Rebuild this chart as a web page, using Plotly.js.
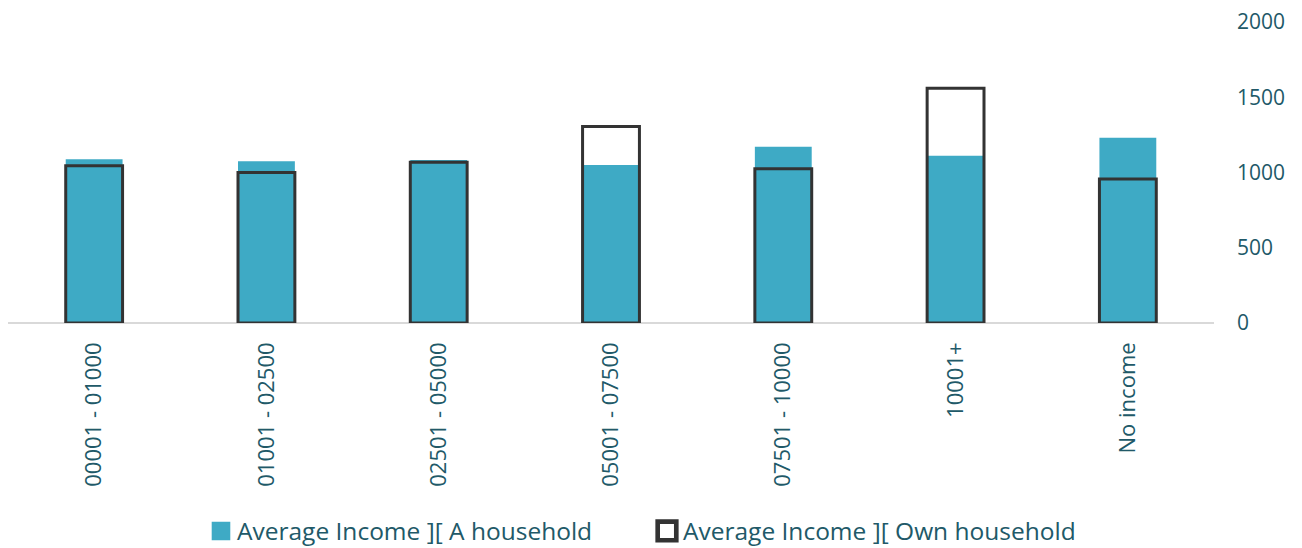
<!DOCTYPE html>
<html>
<head>
<meta charset="utf-8">
<script src="https://cdn.plot.ly/plotly-3.0.1.min.js"></script>
<style>html,body{margin:0;padding:0;background:#fff;}#chart{width:1302px;height:548px;}</style>
</head>
<body>
<div id="chart"></div>
<script>
const categories = ["00001 - 01000", "01001 - 02500", "02501 - 05000", "05001 - 07500", "07501 - 10000", "10001+", "No income"];
const aHousehold = [1088, 1074, 1083, 1050, 1171, 1111, 1231];
const ownHousehold = [1045, 1000, 1068, 1305, 1025, 1559, 956];
const yTicks = [0, 500, 1000, 1500, 2000];

const textColor = "#215968";
const traces = [
  {
    type: "bar", name: "Average Income ][ A household",
    x: categories, y: aHousehold, width: 0.33,
    marker: {color: "#3eaac5", line: {width: 0}},
    hoverinfo: "skip"
  },
  {
    type: "bar", name: "Average Income ][ Own household",
    x: categories, y: ownHousehold, width: 0.33,
    marker: {color: "rgba(0,0,0,0)", line: {color: "#333333", width: 3}},
    hoverinfo: "skip"
  }
];
const layout = {
  width: 1302, height: 548,
  margin: {l: 8, r: 88, t: 22, b: 225},
  paper_bgcolor: "#ffffff", plot_bgcolor: "#ffffff",
  barmode: "overlay",
  showlegend: true,
  font: {family: "Open Sans", color: textColor},
  xaxis: {
    type: "category", tickangle: -90, showgrid: false, showline: false, ticks: "",
    tickfont: {family: "Open Sans", size: 22, color: textColor},
    ticklabelstandoff: 14
  },
  yaxis: {
    side: "right", range: [0, 2000], tickvals: yTicks, showgrid: false,
    zeroline: true, zerolinecolor: "#d9d9d9", zerolinewidth: 2, showline: false, ticks: "",
    tickfont: {family: "Open Sans", size: 21, color: textColor},
    ticklabelstandoff: 22
  },
  legend: {
    orientation: "h", x: 0.1513, xanchor: "left", xref: "container",
    y: 0.031, yref: "container", yanchor: "middle",
    font: {family: "Open Sans", size: 24.5, color: textColor},
    itemwidth: 30, tracegroupgap: 0,
    entrywidth: 401, entrywidthmode: "pixels"
  }
};
Plotly.newPlot("chart", traces, layout, {displayModeBar: false, staticPlot: true}).then(function (gd) {
  // enlarge legend swatches and tuck them next to the text as in the reference
  gd.querySelectorAll(".legendpoints path").forEach(function (p) {
    const t = p.getAttribute("transform") || "";
    p.setAttribute("transform", t + " translate(4,0) scale(1.55)");
  });
});
</script>
</body>
</html>
